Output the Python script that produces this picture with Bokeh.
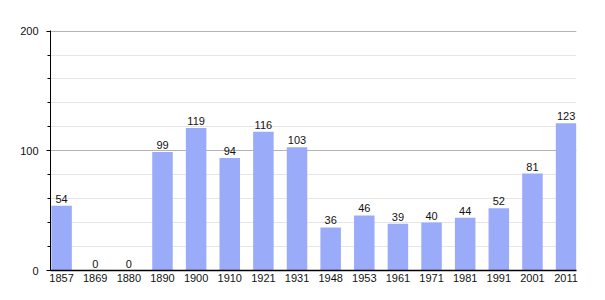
from bokeh.plotting import figure
from bokeh.models import ColumnDataSource, FixedTicker, LabelSet, Range1d
from bokeh.core.properties import value
from bokeh.embed import file_html
from bokeh.resources import INLINE

years = ["1857", "1869", "1880", "1890", "1900", "1910", "1921", "1931",
         "1948", "1953", "1961", "1971", "1981", "1991", "2001", "2011"]
population = [54, 0, 0, 99, 119, 94, 116, 103, 36, 46, 39, 40, 44, 52, 81, 123]
y_ticks = [0, 100, 200]

xs = list(range(len(years)))
src = ColumnDataSource(dict(x=xs, top=population, lab=[str(v) for v in population]))

FONT = "Liberation Sans"

p = figure(width=605, height=300, output_backend="svg", toolbar_location=None,
           x_range=Range1d(-0.33, len(years) - 1 + 0.31), y_range=Range1d(0, 200.5),
           min_border_left=50, min_border_right=29, min_border_top=30, min_border_bottom=30)
p.outline_line_color = None
p.background_fill_color = "white"

p.vbar(x="x", top="top", width=0.61, source=src, fill_color="#9aacf9", line_color=None)

labels = LabelSet(x="x", y="top", text="lab", source=src, text_align="center",
                  text_baseline="bottom", y_offset=3, text_font=value(FONT),
                  text_font_size=value("11px"), text_color=value("#111111"))
p.add_layout(labels)

# x axis
p.xaxis.ticker = FixedTicker(ticks=xs)
p.xaxis.major_label_overrides = {i: y for i, y in enumerate(years)}
p.xaxis.major_tick_line_color = None
p.xaxis.minor_tick_line_color = None
p.xaxis.axis_line_color = "black"
p.xaxis.axis_line_width = 1.5
p.xaxis.major_label_text_font = FONT
p.xaxis.major_label_text_font_size = "11px"
p.xaxis.major_label_text_color = "#111111"
p.xaxis.major_label_standoff = -3
p.xgrid.grid_line_color = None

# y axis
p.yaxis.ticker = FixedTicker(ticks=y_ticks, minor_ticks=list(range(0, 201, 20)))
p.yaxis.axis_line_color = "black"
p.yaxis.axis_line_width = 1
p.yaxis.major_tick_in = 0
p.yaxis.major_tick_out = 4
p.yaxis.minor_tick_in = 0
p.yaxis.minor_tick_out = 3
p.yaxis.major_tick_line_color = "black"
p.yaxis.minor_tick_line_color = "black"
p.yaxis.major_label_text_font = FONT
p.yaxis.major_label_text_font_size = "11px"
p.yaxis.major_label_text_color = "#111111"
p.yaxis.major_label_standoff = 8
p.ygrid.grid_line_color = "#b4b4b4"
p.ygrid.minor_grid_line_color = "#e6e6e6"

open("out.html", "w").write(file_html(p, INLINE))
